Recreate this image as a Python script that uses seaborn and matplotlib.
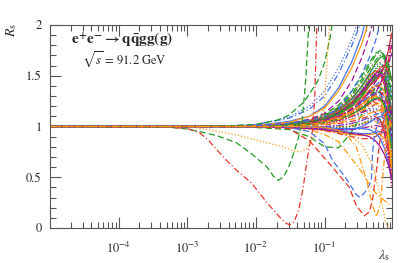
import numpy as np
import pandas as pd
import matplotlib
matplotlib.use("Agg")
import matplotlib.pyplot as plt
import seaborn as sns

# ---------------- data ----------------
# common lambda grid for the bulk of the curves
lam_grid = [1e-5, 3e-3, 0.01, 0.03, 0.06, 0.1, 0.16, 0.25, 0.35, 0.45, 0.55, 0.65, 0.75, 0.85, 0.95]

red_bundle = [
    [1, 1.0, 1.01, 1.03, 1.06, 1.10, 1.17, 1.28, 1.40, 1.50, 1.55, 1.52, 1.40, 1.15, 0.85],
    [1, 1.0, 1.00, 1.02, 1.04, 1.07, 1.12, 1.20, 1.28, 1.33, 1.33, 1.25, 1.08, 0.82, 0.55],
    [1, 1.0, 1.00, 1.01, 1.02, 1.04, 1.06, 1.10, 1.14, 1.16, 1.14, 1.06, 0.92, 0.72, 0.50],
    [1, 1.0, 1.00, 1.00, 0.99, 0.98, 0.97, 0.97, 0.99, 1.00, 0.98, 0.92, 0.82, 0.68, 0.50],
    [1, 1.0, 1.01, 1.02, 1.05, 1.08, 1.14, 1.23, 1.34, 1.44, 1.52, 1.58, 1.60, 1.55, 1.45],
    [1, 1.0, 1.00, 1.01, 1.03, 1.05, 1.09, 1.15, 1.22, 1.28, 1.32, 1.34, 1.30, 1.20, 1.05],
    [1, 1.0, 1.00, 0.99, 0.98, 0.96, 0.93, 0.90, 0.88, 0.88, 0.90, 0.93, 0.95, 0.93, 0.88],
    [1, 1.0, 1.00, 1.01, 1.02, 1.03, 1.05, 1.10, 1.16, 1.22, 1.26, 1.27, 1.22, 1.05, 0.75],
    [1, 1.0, 1.00, 1.02, 1.05, 1.09, 1.15, 1.24, 1.33, 1.40, 1.45, 1.50, 1.60, 1.75, 1.92],
    [1, 1.0, 1.00, 1.01, 1.03, 1.06, 1.10, 1.18, 1.26, 1.33, 1.38, 1.42, 1.50, 1.65, 1.82],
    [1, 1.0, 1.00, 1.00, 1.01, 1.02, 1.03, 1.05, 1.08, 1.10, 1.10, 1.06, 0.96, 0.78, 0.45],
    [1, 1.0, 1.00, 1.01, 1.03, 1.05, 1.08, 1.14, 1.20, 1.24, 1.24, 1.18, 1.02, 0.75, 0.40],
]
green_bundle = [
    [1, 1.0, 1.01, 1.03, 1.07, 1.12, 1.21, 1.35, 1.50, 1.63, 1.72, 1.75, 1.68, 1.45, 1.10],
    [1, 1.0, 1.01, 1.03, 1.06, 1.10, 1.18, 1.30, 1.44, 1.56, 1.65, 1.70, 1.66, 1.50, 1.25],
    [1, 1.0, 1.01, 1.02, 1.05, 1.09, 1.15, 1.26, 1.38, 1.48, 1.56, 1.60, 1.55, 1.35, 1.00],
    [1, 1.0, 1.00, 1.02, 1.04, 1.07, 1.12, 1.20, 1.30, 1.40, 1.47, 1.50, 1.45, 1.30, 1.10],
    [1, 1.0, 1.00, 1.01, 1.03, 1.05, 1.09, 1.16, 1.24, 1.30, 1.34, 1.33, 1.24, 1.05, 0.80],
    [1, 1.0, 1.00, 1.01, 1.02, 1.04, 1.07, 1.12, 1.18, 1.24, 1.30, 1.36, 1.40, 1.42, 1.40],
    [1, 1.0, 1.00, 1.00, 1.00, 0.99, 0.99, 1.00, 1.03, 1.06, 1.08, 1.07, 1.00, 0.85, 0.65],
    [1, 1.0, 1.01, 1.02, 1.05, 1.09, 1.16, 1.27, 1.40, 1.52, 1.62, 1.68, 1.70, 1.62, 1.45],
    [1, 1.0, 0.99, 0.97, 0.90, 0.80, 0.79, 0.95, 1.12, 1.28, 1.38, 1.42, 1.38, 1.20, 0.95],
    [1, 1.0, 1.01, 1.03, 1.06, 1.11, 1.19, 1.32, 1.47, 1.60, 1.70, 1.74, 1.70, 1.55, 1.30],
    [1, 1.0, 1.00, 1.02, 1.05, 1.08, 1.14, 1.24, 1.36, 1.47, 1.57, 1.62, 1.58, 1.42, 1.15],
    [1, 1.0, 1.00, 1.01, 1.02, 1.04, 1.07, 1.12, 1.18, 1.24, 1.28, 1.28, 1.20, 1.02, 0.78],
    [1, 1.0, 1.00, 1.02, 1.04, 1.08, 1.13, 1.22, 1.32, 1.42, 1.50, 1.54, 1.50, 1.35, 1.05],
]
blue_bundle = [
    [1, 1.0, 1.00, 1.02, 1.04, 1.07, 1.12, 1.20, 1.28, 1.34, 1.38, 1.38, 1.32, 1.15, 0.90],
    [1, 1.0, 1.00, 1.01, 1.02, 1.04, 1.06, 1.10, 1.14, 1.17, 1.18, 1.15, 1.05, 0.88, 0.65],
    [1, 1.0, 1.00, 1.00, 0.99, 0.98, 0.96, 0.94, 0.93, 0.93, 0.94, 0.95, 0.94, 0.88, 0.78],
    [1, 1.0, 1.01, 1.02, 1.05, 1.09, 1.15, 1.25, 1.36, 1.46, 1.53, 1.56, 1.52, 1.38, 1.15],
    [1, 1.0, 1.00, 1.01, 1.03, 1.06, 1.10, 1.17, 1.25, 1.33, 1.40, 1.45, 1.48, 1.48, 1.45],
    [1, 1.0, 1.00, 1.01, 1.02, 1.03, 1.05, 1.08, 1.12, 1.15, 1.17, 1.16, 1.10, 0.98, 0.80],
    [1, 1.0, 1.00, 0.99, 0.98, 0.97, 0.96, 0.97, 1.00, 1.04, 1.08, 1.10, 1.08, 1.00, 0.88],
    [1, 1.0, 1.00, 1.01, 1.03, 1.06, 1.10, 1.16, 1.24, 1.30, 1.33, 1.32, 1.24, 1.08, 0.85],
    [1, 1.0, 1.00, 1.00, 1.00, 1.00, 1.01, 1.03, 1.06, 1.09, 1.12, 1.13, 1.10, 1.02, 0.90],
    [1, 1.0, 1.00, 1.02, 1.05, 1.09, 1.16, 1.27, 1.40, 1.52, 1.60, 1.63, 1.58, 1.45, 1.30],
    [1, 1.0, 1.00, 1.00, 0.99, 0.99, 0.98, 0.98, 0.98, 0.97, 0.94, 0.88, 0.78, 0.65, 0.48],
]
orange_bundle = [
    [1, 1.0, 1.01, 1.03, 1.06, 1.11, 1.19, 1.31, 1.44, 1.55, 1.62, 1.64, 1.58, 1.40, 1.15],
    [1, 1.0, 1.00, 1.02, 1.04, 1.07, 1.12, 1.20, 1.29, 1.36, 1.40, 1.40, 1.34, 1.20, 1.00],
    [1, 1.0, 1.00, 1.01, 1.02, 1.04, 1.07, 1.12, 1.18, 1.22, 1.24, 1.22, 1.14, 0.98, 0.75],
    [1, 1.0, 1.00, 1.00, 1.00, 1.00, 1.00, 1.01, 1.03, 1.05, 1.05, 1.02, 0.94, 0.80, 0.60],
    [1, 1.0, 1.00, 1.01, 1.03, 1.06, 1.10, 1.17, 1.26, 1.35, 1.43, 1.50, 1.55, 1.58, 1.60],
    [1, 1.0, 1.00, 0.99, 0.98, 0.96, 0.94, 0.92, 0.91, 0.92, 0.93, 0.92, 0.88, 0.80, 0.70],
    [1, 1.0, 1.00, 1.01, 1.03, 1.05, 1.08, 1.13, 1.20, 1.26, 1.30, 1.30, 1.22, 1.02, 0.72],
    [1, 1.0, 1.00, 0.99, 0.97, 0.92, 0.85, 0.68, 0.55, 0.43, 0.35, 0.30, 0.27, 0.24, 0.22],
    [1, 1.0, 1.00, 1.02, 1.05, 1.09, 1.15, 1.25, 1.37, 1.47, 1.54, 1.56, 1.50, 1.32, 1.02],
    [1, 1.0, 1.00, 1.01, 1.03, 1.05, 1.09, 1.15, 1.22, 1.28, 1.30, 1.27, 1.15, 0.92, 0.60],
    [1, 1.0, 1.00, 1.00, 1.01, 1.02, 1.04, 1.07, 1.10, 1.13, 1.15, 1.16, 1.14, 1.08, 0.98],
    [1, 1.0, 1.00, 1.01, 1.02, 1.04, 1.07, 1.11, 1.16, 1.20, 1.22, 1.20, 1.10, 0.88, 0.55],
]
purple_bundle = [
    [1, 1.0, 1.00, 1.02, 1.04, 1.07, 1.12, 1.20, 1.30, 1.40, 1.48, 1.52, 1.48, 1.30, 1.00],
    [1, 1.0, 1.00, 1.01, 1.03, 1.05, 1.09, 1.15, 1.22, 1.28, 1.32, 1.30, 1.20, 0.98, 0.65],
    [1, 1.0, 1.00, 1.01, 1.02, 1.04, 1.06, 1.10, 1.14, 1.18, 1.22, 1.28, 1.38, 1.55, 1.80],
    [1, 1.0, 1.00, 1.00, 1.00, 0.99, 0.99, 1.00, 1.02, 1.05, 1.07, 1.06, 0.98, 0.82, 0.60],
    [1, 1.0, 1.01, 1.02, 1.05, 1.08, 1.14, 1.24, 1.35, 1.45, 1.52, 1.55, 1.50, 1.35, 1.12],
    [1, 1.0, 1.00, 1.01, 1.02, 1.04, 1.07, 1.12, 1.18, 1.25, 1.33, 1.42, 1.52, 1.62, 1.72],
    [1, 1.0, 1.00, 1.00, 0.99, 0.98, 0.97, 0.97, 0.98, 1.00, 1.01, 1.00, 0.94, 0.80, 0.55],
    [1, 1.0, 1.00, 1.01, 1.03, 1.06, 1.10, 1.16, 1.24, 1.30, 1.34, 1.34, 1.28, 1.15, 0.95],
    [1, 1.0, 1.00, 1.02, 1.04, 1.08, 1.13, 1.22, 1.33, 1.43, 1.50, 1.52, 1.45, 1.28, 1.05],
    [1, 1.0, 1.00, 1.01, 1.02, 1.04, 1.07, 1.12, 1.18, 1.23, 1.27, 1.28, 1.24, 1.12, 0.90],
    [1, 1.0, 1.00, 1.01, 1.03, 1.06, 1.10, 1.17, 1.26, 1.35, 1.44, 1.52, 1.62, 1.74, 1.88],
    [1, 1.0, 1.00, 1.00, 1.00, 1.00, 1.01, 1.03, 1.06, 1.08, 1.08, 1.04, 0.92, 0.70, 0.42],
    [1, 1.0, 1.00, 0.99, 0.98, 0.97, 0.95, 0.93, 0.92, 0.90, 0.86, 0.80, 0.72, 0.62, 0.50],
]

# curves that leave the frame at the top
lam_up = [1e-5, 3e-3, 0.01, 0.03, 0.06, 0.1, 0.16, 0.25, 0.35, 0.45, 0.55, 0.65, 0.75]
blue_dashdot_up = [1, 1.0, 1.02, 1.08, 1.17, 1.30, 1.52, 1.80, 2.05, 2.35]
blue_dotted_up = [1, 1.0, 1.02, 1.09, 1.20, 1.35, 1.58, 1.86, 2.15, 2.45]
blue_solid_up = [1, 1.0, 1.01, 1.05, 1.10, 1.20, 1.38, 1.64, 1.90, 2.20]
orange_solid_up = [1, 1.0, 1.01, 1.04, 1.10, 1.18, 1.35, 1.58, 1.82, 2.06]
purple_dashed_up = [1, 1.0, 1.01, 1.03, 1.07, 1.13, 1.25, 1.45, 1.68, 1.90, 2.12]
blue_dashed_up = [1, 1.0, 1.01, 1.03, 1.06, 1.10, 1.18, 1.35, 1.52, 1.68, 1.84, 2.02, 2.20]

# strongly deviating curves
green_dip_lam = [1e-5, 5e-4, 1e-3, 1.5e-3, 2.7e-3, 5.2e-3, 8.7e-3, 0.0145, 0.018, 0.021,
                 0.025, 0.03, 0.036, 0.042, 0.047, 0.053, 0.06]
green_dip_R = [1, 0.995, 0.975, 0.95, 0.91, 0.84, 0.73, 0.60, 0.51, 0.47,
               0.50, 0.60, 0.75, 0.90, 1.05, 1.45, 2.10]

red_dip_lam = [1e-5, 5e-4, 1e-3, 1.5e-3, 2e-3, 2.7e-3, 3.8e-3, 5.2e-3, 8.7e-3, 0.0145, 0.022,
               0.027, 0.031, 0.036, 0.042, 0.048, 0.058, 0.067, 0.072, 0.077, 0.082]
red_dip_R = [1, 0.995, 0.98, 0.94, 0.87, 0.77, 0.66, 0.57, 0.44, 0.25, 0.11,
             0.05, 0.03, 0.06, 0.18, 0.37, 0.75, 0.97, 1.30, 2.00, 2.60]

green_up_lam = [1e-5, 1e-3, 5e-3, 0.01, 0.02, 0.03, 0.05, 0.08, 0.1, 0.12, 0.135]
green_up_R = [1, 1.0, 1.01, 1.02, 1.06, 1.11, 1.24, 1.45, 1.63, 1.87, 2.10]

orange_dot_lam = [1e-5, 1e-3, 2e-3, 5e-3, 0.0145, 0.025, 0.035, 0.045, 0.055, 0.07, 0.085,
                  0.095, 0.105, 0.12, 0.13]
orange_dot_R = [1, 1.0, 0.97, 0.92, 0.84, 0.80, 0.76, 0.75, 0.78, 0.90, 1.00,
                1.07, 1.50, 2.05, 2.50]

blue_dash_dip_lam = [1e-5, 3e-3, 0.01, 0.03, 0.06, 0.1, 0.13, 0.2, 0.29, 0.33, 0.42, 0.48, 0.5, 0.53, 0.6, 0.75, 0.95]
blue_dash_dip_R = [1, 1.0, 1.0, 0.99, 0.95, 0.83, 0.67, 0.50, 0.33, 0.30, 0.38, 0.47, 0.74, 0.90, 1.05, 1.15, 1.10]

red_dash_dip_lam = [1e-5, 3e-3, 0.01, 0.03, 0.06, 0.13, 0.23, 0.29, 0.38, 0.45, 0.5, 0.57, 0.65, 0.75, 0.95]
red_dash_dip_R = [1, 1.0, 1.0, 0.98, 0.86, 0.60, 0.40, 0.22, 0.12, 0.16, 0.28, 0.57, 0.90, 1.10, 1.20]

orange_dd_dip_lam = [1e-5, 3e-3, 0.03, 0.1, 0.16, 0.22, 0.29, 0.41, 0.5, 0.57, 0.66, 0.7, 0.8, 0.95]
orange_dd_dip_R = [1, 1.0, 1.0, 0.99, 0.96, 0.90, 0.80, 0.47, 0.22, 0.11, 0.25, 0.50, 0.90, 1.10]

orange_dot_low_lam = [1e-5, 3e-3, 0.03, 0.1, 0.2, 0.35, 0.5, 0.65, 0.78, 0.85]
orange_dot_low_R = [1, 1.0, 1.0, 0.99, 0.95, 0.82, 0.62, 0.32, 0.05, 0.0]

x_ticks = [1e-4, 1e-3, 1e-2, 1e-1]
x_tick_labels = [r"$10^{-4}$", r"$10^{-3}$", r"$10^{-2}$", r"$10^{-1}$"]
y_ticks = [0, 0.5, 1, 1.5, 2]
y_tick_labels = ["0", "0.5", "1", "1.5", "2"]

# ---------------- style ----------------
sns.set_style("ticks")
plt.rcParams["font.family"] = ["STIXGeneral", "DejaVu Serif"]
plt.rcParams["mathtext.fontset"] = "stix"

RED = "#e8352a"
GREEN = "#239a23"
BLUE = "#4672ea"
ORANGE = "#ff9b14"
PURPLE = "#a0129c"
SOLID = "-"
DASH = (0, (5, 2.5))
DDOT = (0, (5, 2, 1, 2))
DOT = (0, (1, 1.6))
styles = [SOLID, DASH, DDOT, DOT]
LW = 0.9

fig = plt.figure(figsize=(4.05, 2.63), dpi=100)
ax = fig.add_axes([50 / 405, 1 - 228 / 263, 342 / 405, 203 / 263])
ax.set_xscale("log")


def draw(lam, vals, color, ls):
    n = len(vals)
    df = pd.DataFrame({"lam": lam[:n], "R": vals})
    sns.lineplot(data=df, x="lam", y="R", ax=ax, color=color, linestyle=ls,
                 lw=LW, estimator=None, sort=False)


groups = [(red_bundle, RED), (green_bundle, GREEN), (blue_bundle, BLUE),
          (orange_bundle, ORANGE), (purple_bundle, PURPLE)]
maxlen = max(len(g) for g, _ in groups)
for i in range(maxlen):
    for gi, (g, c) in enumerate(groups):
        if i < len(g):
            draw(lam_grid, g[i], c, styles[(i + gi) % 4])

draw(lam_up, blue_dashdot_up, BLUE, DDOT)
draw(lam_up, blue_dotted_up, BLUE, DOT)
draw(lam_up, blue_solid_up, BLUE, SOLID)
draw(lam_up, orange_solid_up, ORANGE, SOLID)
draw(lam_up, purple_dashed_up, PURPLE, DASH)
draw(lam_up, blue_dashed_up, BLUE, DASH)

draw(green_dip_lam, green_dip_R, GREEN, DASH)
draw(red_dip_lam, red_dip_R, RED, DDOT)
draw(green_up_lam, green_up_R, GREEN, DASH)
draw(orange_dot_lam, orange_dot_R, ORANGE, DOT)
draw(blue_dash_dip_lam, blue_dash_dip_R, BLUE, DASH)
draw(red_dash_dip_lam, red_dash_dip_R, RED, DASH)
draw(orange_dd_dip_lam, orange_dd_dip_R, ORANGE, DDOT)
draw(orange_dot_low_lam, orange_dot_low_R, ORANGE, DOT)

ax.set_xlim(1e-5, 0.96)
ax.set_ylim(0, 2)
ax.set_xticks(x_ticks)
ax.set_xticklabels(x_tick_labels)
ax.set_yticks(y_ticks)
ax.set_yticklabels(y_tick_labels)
ax.yaxis.set_minor_locator(matplotlib.ticker.MultipleLocator(0.1))
ax.xaxis.set_minor_locator(matplotlib.ticker.LogLocator(base=10, subs=np.arange(2, 10)))
ax.xaxis.set_minor_formatter(matplotlib.ticker.NullFormatter())
ax.tick_params(which="both", direction="in", top=True, right=True, color="#555555", width=0.8)
ax.tick_params(which="major", length=8)
ax.tick_params(which="minor", length=4)
ax.tick_params(axis="x", which="major", pad=9, labelsize=9)
ax.tick_params(axis="y", which="major", pad=6, labelsize=9)
for s in ax.spines.values():
    s.set_color("#555555")
    s.set_linewidth(0.8)
ax.set_xlabel("")
ax.set_ylabel("")

fig.text(12 / 405, 1 - 30 / 263, r"$R_{\mathrm{s}}$", rotation=90, fontsize=10, ha="center", va="center")
fig.text(384 / 405, 1 - 256 / 263, r"$\lambda_{\mathrm{s}}$", fontsize=10, ha="center", va="center")
ax.text(0.21, 0.922, r"$\mathbf{e^{+}e^{-}\rightarrow q\bar{q}gg(g)}$", transform=ax.transAxes,
        fontsize=11, ha="center", va="center")
ax.text(0.217, 0.83, r"$\sqrt{s}$ = 91.2 GeV", transform=ax.transAxes,
        fontsize=9, ha="center", va="center")

fig.savefig("out.png", dpi=100)
